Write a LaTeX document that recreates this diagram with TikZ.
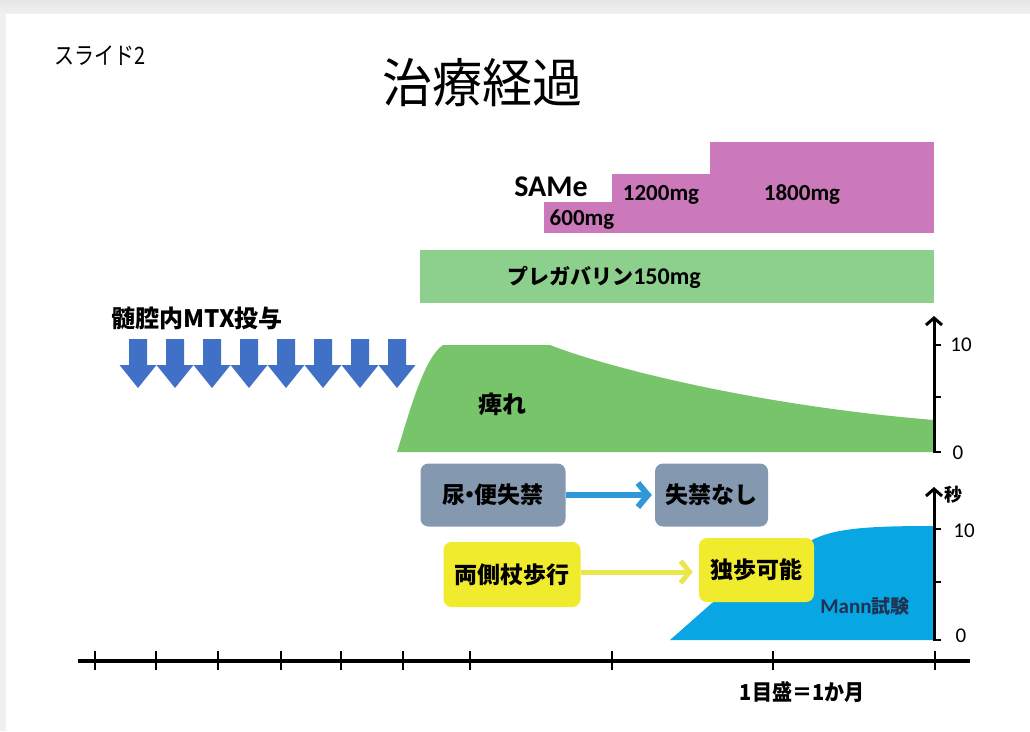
\documentclass[tikz,border=0pt]{standalone}
\usepackage{fontspec}
\setmainfont{Carlito}
\newfontfamily\jp{Noto Sans CJK JP}
\usetikzlibrary{arrows.meta}
\definecolor{samec}{HTML}{CC79BC}
\definecolor{pregc}{HTML}{8DCF8D}
\definecolor{numbc}{HTML}{77C46A}
\definecolor{mtxc}{HTML}{4171C6}
\definecolor{greyboxc}{HTML}{8498AF}
\definecolor{yellowboxc}{HTML}{F1EB2D}
\definecolor{bluearrc}{HTML}{3198D8}
\definecolor{yellowarrc}{HTML}{E9E64E}
\definecolor{mannc}{HTML}{08A7E4}
\definecolor{navyc}{HTML}{1F3252}
\begin{document}
\begin{tikzpicture}[x=1pt,y=-1pt,
  jplbl/.style={font=\jp\bfseries\fontsize{24}{28}\selectfont, inner sep=0pt},
  mglbl/.style={font=\bfseries\fontsize{23}{27}\selectfont, inner sep=0pt},
  numlbl/.style={font=\fontsize{21}{24}\selectfont, inner sep=0pt},
  statebox/.style={rounded corners=8pt, inner sep=0pt, font=\jp\bfseries\fontsize{23}{27}\selectfont},
  axisline/.style={line width=3.2pt, black},
  axisarrow/.style={line width=3pt, black, -{Straight Barb[length=7pt,width=16pt]}},
  tickline/.style={line width=2.6pt, black}
]
\useasboundingbox (0,0) rectangle (1030,731);
% background and frame
\fill[white] (0,0) rectangle (1030,731);
\shade[top color=black!10, bottom color=black!6] (0,0) rectangle (1030,13);
\fill[black!6] (0,13) rectangle (6,731);

% headings
\node[anchor=west, inner sep=0pt, font=\jp\fontsize{20}{24}\selectfont] (slide) at (54,56) {\scalebox{1}[1.2]{スライド2}};
\node[inner sep=0pt, font=\jp\fontsize{50}{58}\selectfont] (title) at (482,83) {\scalebox{1}[1.05]{治療経過}};

% SAMe steps
\fill[samec] (544,202) rectangle (612,233);
\fill[samec] (612,174) rectangle (710,233);
\fill[samec] (710,142) rectangle (934,233);
\node[inner sep=0pt, font=\bfseries\fontsize{30}{34}\selectfont] (same) at (551,187) {SAMe};
\node[mglbl] (d600) at (582,220) {600mg};
\node[mglbl] (d1200) at (661,195) {1200mg};
\node[mglbl] (d1800) at (802,195) {1800mg};

% pregabalin
\fill[pregc] (420,250) rectangle (934,303);
\node[inner sep=0pt, font=\bfseries\fontsize{24}{28}\selectfont] (preg) at (604,277) {{\jp\fontsize{21}{25}\selectfont プレガバリン}150mg};

% MTX
\node[jplbl, anchor=west] (mtx) at (111,318) {髄腔内MTX投与};
\foreach \i in {0,...,7} {
  \pgfmathsetmacro{\cx}{138+37*\i}
  \fill[mtxc] (\cx-9,339) -- (\cx+9,339) -- (\cx+9,365) -- (\cx+18.5,365) -- (\cx,388) -- (\cx-18.5,365) -- (\cx-9,365) -- cycle;
}

% numbness
\fill[numbc] (397,452) .. controls (410,410) and (424,358) .. (443,345) -- (550,345)
  .. controls (600,365) and (750,405) .. (934,420) -- (934,452) -- cycle;
\node[jplbl] (numb) at (502,404) {痺れ};

% numbness axis
\draw[axisarrow] (934,452) -- (934,316);
\draw[tickline] (933,345) -- (941,345);
\draw[tickline] (933,397) -- (941,397);
\draw[tickline] (933,452) -- (941,452);
\node[numlbl] (n10) at (961,345) {10};
\node[numlbl] (n0) at (958,453) {0};

% Mann area
\fill[mannc] (670,640) -- (712,603) -- (770,565) -- (812,540)
  .. controls (835,528) and (870,526) .. (934,526) -- (934,640) -- cycle;
\node[inner sep=0pt, text=navyc, font=\bfseries\fontsize{21}{25}\selectfont] (mann) at (865,606) {Mann{\jp\fontsize{19}{23}\selectfont 試験}};

% Mann axis
\draw[axisarrow] (934,640) -- (934,487);
\draw[tickline] (933,529) -- (941,529);
\draw[tickline] (933,582) -- (941,582);
\draw[tickline] (933,640) -- (941,640);
\node[inner sep=0pt, font=\jp\bfseries\fontsize{18}{20}\selectfont] (sec) at (953,495) {秒};
\node[numlbl] (m10) at (964,531) {10};
\node[numlbl] (m0) at (961,636) {0};

% state boxes
\node[statebox, fill=greyboxc, minimum width=145pt, minimum height=63pt] (urine) at (493,495) {尿\kern-.3em・\kern-.3em便失禁};
\node[statebox, fill=greyboxc, minimum width=113pt, minimum height=63pt] (nocont) at (711.5,495) {失禁なし};
\node[statebox, fill=yellowboxc, minimum width=137pt, minimum height=65pt] (cane) at (512,574.5) {両側杖歩行};
\node[statebox, fill=yellowboxc, minimum width=115pt, minimum height=64pt] (indep) at (756.5,570) {独歩可能};
\draw[bluearrc, line width=6pt, -{Straight Barb[length=10pt,width=24pt]}, shorten >=3pt] (urine.east) -- (urine.east -| nocont.west);
\draw[yellowarrc, line width=5pt, -{Straight Barb[length=9pt,width=22pt]}, shorten >=6pt] (cane.east |- 0,572) -- (indep.west |- 0,572);

% time axis
\coordinate (tstart) at (78,661);
\coordinate (tend) at (970,661);
\draw[axisline] (tstart) -- (tend);
\foreach \x in {95,156,218,281,341,403,470,612,773,935} {
  \draw[tickline] (\x,651) -- (\x,670);
}
\node[inner sep=0pt, font=\jp\bfseries\fontsize{20}{24}\selectfont] (scale) at (802,692) {\scalebox{1}[1.1]{1目盛＝1か月}};
\end{tikzpicture}
\end{document}
